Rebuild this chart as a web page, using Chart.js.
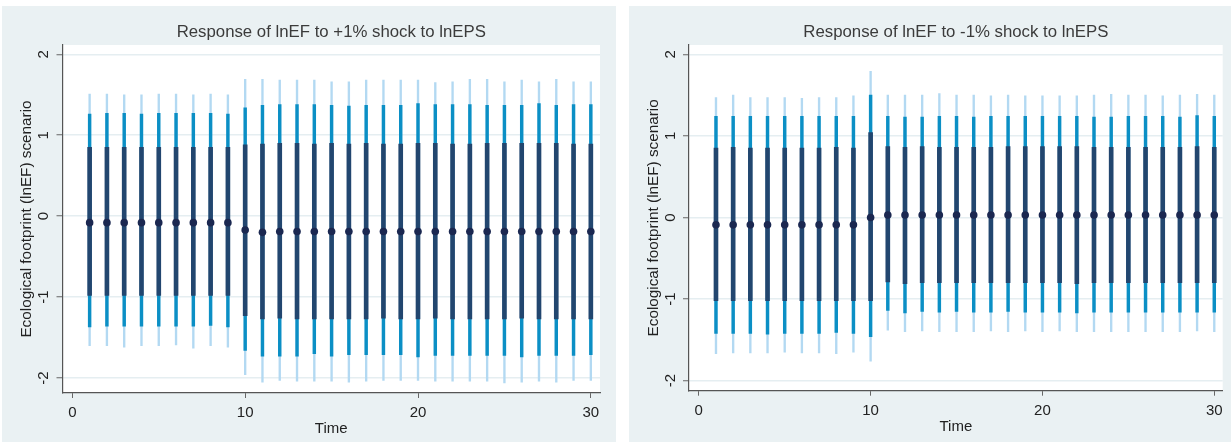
<!DOCTYPE html>
<html>
<head>
<meta charset="utf-8">
<script src="https://cdn.jsdelivr.net/npm/chart.js@4.4.0/dist/chart.umd.min.js"></script>
<style>
  body { margin: 0; background: #fff; width: 1231px; height: 444px; overflow: hidden; position: relative; }
  canvas { position: absolute; background: #eaf1f3; }
  #leftChart { left: 2px; top: 6px; }
  #rightChart { left: 629px; top: 6px; }
</style>
</head>
<body>
<canvas id="leftChart" width="614" height="436"></canvas>
<canvas id="rightChart" width="602" height="436"></canvas>
<script>
const periods = [1, 2, 3, 4, 5, 6, 7, 8, 9, 10, 11, 12, 13, 14, 15, 16, 17, 18, 19, 20, 21, 22, 23, 24, 25, 26, 27, 28, 29, 30];
const xTicks = [0, 10, 20, 30];
const yTicks = [-2, -1, 0, 1, 2];

// +1% shock
const posIrf = [-0.08, -0.08, -0.08, -0.08, -0.08, -0.08, -0.08, -0.08, -0.08, -0.17, -0.2, -0.19, -0.19, -0.19, -0.19, -0.19, -0.19, -0.19, -0.19, -0.19, -0.19, -0.19, -0.19, -0.19, -0.19, -0.19, -0.19, -0.19, -0.19, -0.19];
const posLo90 = [-0.98, -0.98, -0.98, -0.98, -0.98, -0.98, -0.98, -0.98, -0.98, -1.23, -1.27, -1.26, -1.27, -1.27, -1.27, -1.27, -1.27, -1.26, -1.27, -1.27, -1.26, -1.27, -1.27, -1.27, -1.27, -1.26, -1.27, -1.27, -1.27, -1.27];
const posHi90 = [0.85, 0.85, 0.85, 0.85, 0.85, 0.85, 0.85, 0.85, 0.85, 0.88, 0.89, 0.9, 0.9, 0.89, 0.9, 0.89, 0.9, 0.89, 0.89, 0.9, 0.9, 0.89, 0.89, 0.9, 0.9, 0.9, 0.9, 0.9, 0.89, 0.89];
const posLo95 = [-1.37, -1.36, -1.36, -1.36, -1.36, -1.36, -1.36, -1.35, -1.37, -1.66, -1.73, -1.73, -1.73, -1.7, -1.73, -1.71, -1.71, -1.71, -1.71, -1.74, -1.72, -1.72, -1.72, -1.72, -1.72, -1.74, -1.72, -1.72, -1.72, -1.71];
const posHi95 = [1.26, 1.27, 1.27, 1.26, 1.27, 1.27, 1.27, 1.27, 1.26, 1.34, 1.37, 1.38, 1.38, 1.38, 1.37, 1.36, 1.37, 1.37, 1.37, 1.39, 1.38, 1.38, 1.38, 1.37, 1.37, 1.37, 1.39, 1.37, 1.38, 1.38];
const posLo99 = [-1.6, -1.6, -1.62, -1.6, -1.6, -1.59, -1.63, -1.6, -1.62, -1.96, -2.05, -2.03, -2.04, -2.04, -2.04, -2.05, -2.04, -2.03, -2.03, -2.03, -2.04, -2.04, -2.04, -2.04, -2.06, -2.05, -2.04, -2.05, -2.03, -2.03];
const posHi99 = [1.51, 1.51, 1.5, 1.5, 1.51, 1.51, 1.5, 1.51, 1.5, 1.69, 1.69, 1.68, 1.68, 1.68, 1.66, 1.66, 1.68, 1.68, 1.68, 1.68, 1.65, 1.66, 1.69, 1.69, 1.66, 1.68, 1.66, 1.69, 1.66, 1.66];

// -1% shock
const negIrf = [-0.09, -0.09, -0.09, -0.09, -0.09, -0.09, -0.09, -0.09, -0.09, 0.0, 0.03, 0.03, 0.03, 0.03, 0.03, 0.03, 0.03, 0.03, 0.03, 0.03, 0.03, 0.03, 0.03, 0.03, 0.03, 0.03, 0.03, 0.03, 0.03, 0.03];
const negLo90 = [-1.02, -1.02, -1.02, -1.02, -1.02, -1.02, -1.02, -1.02, -1.02, -1.02, -0.79, -0.81, -0.8, -0.8, -0.8, -0.8, -0.8, -0.8, -0.8, -0.8, -0.8, -0.81, -0.8, -0.8, -0.8, -0.8, -0.8, -0.8, -0.8, -0.8];
const negHi90 = [0.85, 0.86, 0.85, 0.85, 0.85, 0.85, 0.85, 0.86, 0.85, 1.04, 0.87, 0.86, 0.87, 0.86, 0.86, 0.86, 0.86, 0.87, 0.87, 0.87, 0.87, 0.87, 0.86, 0.86, 0.86, 0.86, 0.86, 0.86, 0.87, 0.86];
const negLo95 = [-1.42, -1.42, -1.42, -1.43, -1.42, -1.42, -1.42, -1.41, -1.42, -1.46, -1.14, -1.17, -1.15, -1.16, -1.15, -1.16, -1.16, -1.15, -1.16, -1.16, -1.16, -1.17, -1.16, -1.16, -1.16, -1.16, -1.16, -1.16, -1.16, -1.16];
const negHi95 = [1.24, 1.24, 1.24, 1.24, 1.24, 1.24, 1.24, 1.24, 1.24, 1.5, 1.24, 1.23, 1.23, 1.24, 1.24, 1.23, 1.24, 1.24, 1.24, 1.24, 1.24, 1.24, 1.23, 1.23, 1.24, 1.24, 1.24, 1.23, 1.25, 1.24];
const negLo99 = [-1.67, -1.66, -1.66, -1.66, -1.65, -1.66, -1.66, -1.67, -1.65, -1.76, -1.38, -1.4, -1.39, -1.4, -1.4, -1.4, -1.39, -1.4, -1.39, -1.4, -1.39, -1.4, -1.4, -1.4, -1.4, -1.4, -1.4, -1.4, -1.39, -1.4];
const negHi99 = [1.47, 1.5, 1.47, 1.47, 1.47, 1.46, 1.47, 1.47, 1.49, 1.79, 1.5, 1.5, 1.5, 1.52, 1.5, 1.5, 1.49, 1.5, 1.49, 1.49, 1.49, 1.49, 1.5, 1.51, 1.5, 1.5, 1.49, 1.5, 1.51, 1.5];

const FONT = 'Liberation Sans, Arial, sans-serif';

const plotBackground = {
    id: 'plotBackground',
    beforeDraw(chart) {
        const { ctx, chartArea: a } = chart;
        ctx.save();
        ctx.fillStyle = '#ffffff';
        ctx.fillRect(a.left, a.top, a.right - a.left, a.bottom - a.top);
        ctx.restore();
    }
};

const panelTitle = {
    id: 'panelTitle',
    afterDraw(chart, args, opts) {
        const { ctx, chartArea: a } = chart;
        ctx.save();
        ctx.font = '16.8px ' + FONT;
        ctx.fillStyle = '#3b3b3b';
        ctx.textAlign = 'center';
        ctx.textBaseline = 'middle';
        ctx.fillText(opts.text, (a.left + a.right) / 2, opts.y);
        ctx.restore();
    }
};

function intervals(lo, hi) {
    return periods.map((p, i) => ({ x: p, y: [lo[i], hi[i]] }));
}

function makeChart(id, title, irf, lo90, hi90, lo95, hi95, lo99, hi99, box) {
    const ctx = document.getElementById(id).getContext('2d');
    return new Chart(ctx, {
        type: 'bar',
        data: {
            datasets: [
                {
                    type: 'scatter',
                    data: periods.map((p, i) => ({ x: p, y: irf[i] })),
                    pointRadius: 3.8,
                    pointBackgroundColor: '#1b2851',
                    pointBorderWidth: 0,
                    order: 0
                },
                {
                    data: intervals(lo90, hi90),
                    backgroundColor: '#22466f',
                    barThickness: 4,
                    grouped: false,
                    order: 1
                },
                {
                    data: intervals(lo95, hi95),
                    backgroundColor: '#0b8fc5',
                    barThickness: 2.8,
                    grouped: false,
                    order: 2
                },
                {
                    data: intervals(lo99, hi99),
                    backgroundColor: '#b3d9f2',
                    barThickness: 1.7,
                    grouped: false,
                    order: 3
                }
            ]
        },
        options: {
            responsive: false,
            animation: false,
            devicePixelRatio: 1,
            layout: { padding: { top: box.top, right: box.right, left: 0, bottom: box.bottom } },
            plugins: {
                legend: { display: false },
                tooltip: { enabled: false },
                panelTitle: { text: title, y: 26.5 }
            },
            scales: {
                x: {
                    type: 'linear',
                    offset: false,
                    min: box.xmin,
                    max: box.xmax,
                    afterBuildTicks: s => { s.ticks = xTicks.map(v => ({ value: v })); },
                    afterFit: s => { s.height = box.xh; },
                    grid: { offset: false, drawOnChartArea: false, tickLength: 5, tickColor: '#666', tickWidth: 1 },
                    border: { color: '#555', width: 1.2 },
                    ticks: { color: '#222', font: { family: FONT, size: 15 }, padding: 6, maxRotation: 0 },
                    title: { display: true, text: 'Time', color: '#222', font: { family: FONT, size: 15 }, padding: { top: 0, bottom: 4 } }
                },
                y: {
                    min: box.ymin,
                    max: box.ymax,
                    afterBuildTicks: s => { s.ticks = yTicks.map(v => ({ value: v })); },
                    afterFit: s => { s.width = box.yw; },
                    grid: { color: '#e5eef1', lineWidth: 1.5, tickLength: 6, tickColor: '#666', tickWidth: 1 },
                    border: { color: '#555', width: 1.2 },
                    ticks: { color: '#222', font: { family: FONT, size: 15 }, padding: 5.5, minRotation: 90, maxRotation: 90, crossAlign: 'center' },
                    title: { display: true, text: 'Ecological footprint (lnEF) scenario', color: '#222', font: { family: FONT, size: 15.3 }, padding: { top: 16, bottom: 0 } }
                }
            }
        },
        plugins: [plotBackground, panelTitle]
    });
}

makeChart('leftChart', 'Response of lnEF to +1% shock to lnEPS',
    posIrf, posLo90, posHi90, posLo95, posHi95, posLo99, posHi99,
    { top: 39, right: 16, bottom: 0, xh: 49, yw: 60.5, xmin: -0.57, xmax: 30.53, ymin: -2.185, ymax: 2.115 });

makeChart('rightChart', 'Response of lnEF to -1% shock to lnEPS',
    negIrf, negLo90, negHi90, negLo95, negHi95, negLo99, negHi99,
    { top: 39, right: 8.3, bottom: 2.6, xh: 48.7, yw: 60, xmin: -0.57, xmax: 30.49, ymin: -2.123, ymax: 2.114 });
</script>
</body>
</html>
